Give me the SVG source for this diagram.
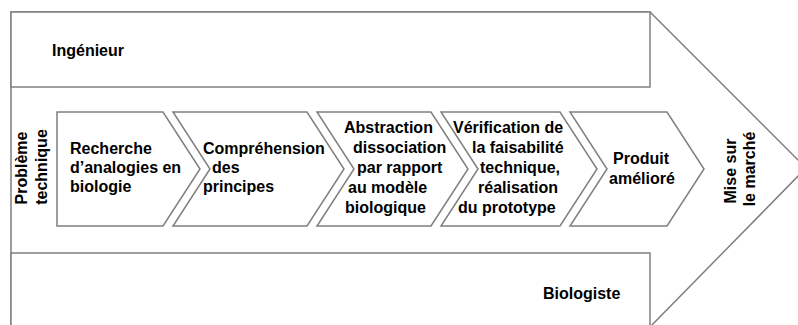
<svg xmlns="http://www.w3.org/2000/svg" width="798" height="325" viewBox="0 0 798 325">
<style>
.sh{fill:#fff;stroke:#7f7f7f;stroke-width:1.5;stroke-linejoin:miter}
.t{font-family:"Liberation Sans",Arial,sans-serif;font-weight:bold;font-size:16px;fill:#000}
.m{text-anchor:middle}
</style>
<g id="bigArrow">
<polygon class="sh" points="11,12 650,12 806,168 650,327 11,327"/>
</g>
<g id="ingenieur">
<rect class="sh" x="11" y="12" width="639" height="75"/>
<text class="t" x="52" y="56">Ingénieur</text>
</g>
<g id="biologiste">
<rect class="sh" x="11" y="253" width="639" height="80"/>
<text class="t" x="543" y="299">Biologiste</text>
</g>
<g id="probleme">
<text class="t m" transform="translate(26.5,168) rotate(-90)">Problème</text>
<text class="t m" transform="translate(46.5,167) rotate(-90)">technique</text>
</g>
<g id="c1">
<polygon class="sh" points="57,112 163,112 200,169 163,226 57,226"/>
<text class="t" x="70" y="154">Recherche</text>
<text class="t" x="70" y="173">d’analogies en</text>
<text class="t" x="70" y="192">biologie</text>
</g>
<g id="c2">
<polygon class="sh" points="173,112 307,112 344,169 307,226 173,226 210,169"/>
<text class="t" x="203" y="154">Compréhension</text>
<text class="t" x="212" y="173">des</text>
<text class="t" x="203" y="192">principes</text>
</g>
<g id="c3">
<polygon class="sh" points="317,112 431,112 468,169 431,226 317,226 354,169"/>
<text class="t" x="344" y="133">Abstraction</text>
<text class="t" x="353" y="153">dissociation</text>
<text class="t" x="357" y="173">par rapport</text>
<text class="t" x="348" y="193">au modèle</text>
<text class="t" x="345" y="213">biologique</text>
</g>
<g id="c4">
<polygon class="sh" points="441,112 560,112 597,169 560,226 441,226 478,169"/>
<text class="t" x="453" y="133">Vérification de</text>
<text class="t" x="472" y="153">la faisabilité</text>
<text class="t" x="480" y="173">technique,</text>
<text class="t" x="478" y="193">réalisation</text>
<text class="t" x="458" y="213">du prototype</text>
</g>
<g id="c5">
<polygon class="sh" points="570,112 667,112 704,169 667,226 570,226 607,169"/>
<text class="t m" x="641" y="164">Produit</text>
<text class="t m" x="642" y="184">amélioré</text>
</g>
<g id="mise">
<text class="t m" transform="translate(736,171) rotate(-90)">Mise sur</text>
<text class="t m" transform="translate(755,169) rotate(-90)">le marché</text>
</g>
<g id="connectors"></g>
</svg>
